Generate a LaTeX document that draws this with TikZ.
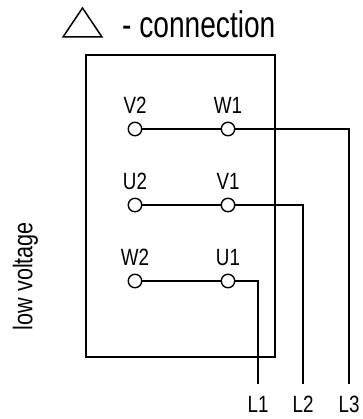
\documentclass[tikz,border=0pt]{standalone}
\usepackage{fontspec}
\setmainfont{Liberation Sans}[FakeStretch=0.8]
\newfontfamily\titlefont{Liberation Sans}[FakeStretch=0.76]
\usepackage{tikz}
\usetikzlibrary{positioning}

\begin{document}
\begin{tikzpicture}[x=1pt, y=-1pt,
    terminal/.style={circle, draw, fill=white, inner sep=0pt, minimum size=13.5pt, line width=1.4pt},
    wire/.style={line width=1.4pt},
    pin/.style={font=\fontsize{23.5}{25}\selectfont, inner sep=0pt}]
    \useasboundingbox (0,0) rectangle (362,419);

    % Title
    \draw[line width=1.5pt, line join=miter] (63,37) -- (102,37) -- (82.5,8) -- cycle;
    \node[anchor=base west, inner sep=0pt, font=\titlefont\fontsize{37}{40}\selectfont] (title) at (122,37.5) {- connection};

    % Terminal box
    \draw[line width=2pt] (86,55) rectangle (275,357);
    \node[rotate=90, inner sep=0pt, font=\fontsize{27}{29}\selectfont] (side) at (25.5,276) {low voltage};

    % Terminals
    \node[terminal, label={[pin, label distance=7.5pt]above:V2}] (V2) at (135,129) {};
    \node[terminal, label={[pin, label distance=7.5pt]above:W1}] (W1) at (228,129) {};
    \node[terminal, label={[pin, label distance=7.5pt]above:U2}] (U2) at (135,205) {};
    \node[terminal, label={[pin, label distance=7.5pt]above:V1}] (V1) at (228,205) {};
    \node[terminal, label={[pin, label distance=7.5pt]above:W2}] (W2) at (135,281) {};
    \node[terminal, label={[pin, label distance=7.5pt]above:U1}] (U1) at (228,281) {};

    % Line ends
    \coordinate (e1) at (258,384);
    \coordinate (e2) at (303,384);
    \coordinate (e3) at (349,384);
    \node[pin, anchor=base] (L1) at (258,412) {L1};
    \node[pin, anchor=base] (L2) at (303,412) {L2};
    \node[pin, anchor=base] (L3) at (349,412) {L3};

    % Bridges and supply lines
    \draw[wire] (V2) -- (W1);
    \draw[wire] (U2) -- (V1);
    \draw[wire] (W2) -- (U1);
    \draw[wire] (W1) -| (e3);
    \draw[wire] (V1) -| (e2);
    \draw[wire] (U1) -| (e1);
\end{tikzpicture}
\end{document}
